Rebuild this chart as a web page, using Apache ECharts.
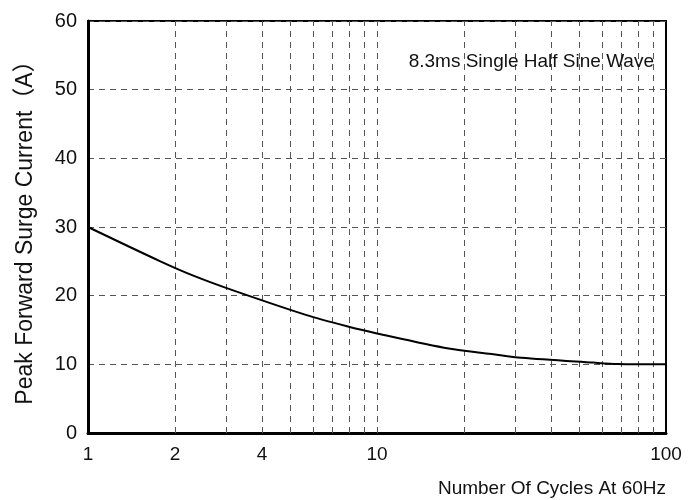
<!DOCTYPE html>
<html>
<head>
<meta charset="utf-8">
<script src="https://cdn.jsdelivr.net/npm/echarts@6/dist/echarts.min.js"></script>
<style>html,body{margin:0;padding:0;background:#fff}#c{width:698px;height:500px}</style>
</head>
<body>
<div id="c"></div>
<script>
// Data (x positions read against the 1 / 10 / 100 decades)
const cycles  = [1, 1.78, 2.35, 3.16, 5.67, 7.93, 10, 17.7, 24.9, 31.6, 56, 68, 100];
const current = [30, 25.0, 22.8, 20.8, 17.2, 15.5, 14.5, 12.3, 11.5, 10.95, 10.25, 10.05, 10];
const xTickLabels = [1, 2, 4, 10, 100];
const xGridValues = [2, 3, 4, 5, 6, 7, 8, 9, 10, 20, 30, 40, 50, 60, 70, 80, 90];
const yTicks = [0, 10, 20, 30, 40, 50, 60];

const FONT = "'Liberation Sans', Arial, 'Noto Sans CJK SC', sans-serif";
const chart = echarts.init(document.getElementById('c'));
chart.setOption({
  backgroundColor: '#fff',
  animation: false,
  textStyle: { fontFamily: FONT },
  title: {
    text: '8.3ms Single Half Sine Wave',
    right: 44, top: 52, padding: 0,
    textStyle: { fontSize: 19, fontWeight: 'normal', color: '#111', fontFamily: FONT }
  },
  grid: {
    left: 88, right: 32, top: 21, bottom: 67,
    show: true, borderColor: '#000', borderWidth: 2, backgroundColor: 'transparent'
  },
  xAxis: {
    type: 'log', logBase: 10, min: 1, max: 100,
    name: 'Number Of Cycles At 60Hz',
    nameLocation: 'end', nameGap: 0,
    nameTextStyle: { align: 'right', verticalAlign: 'top', padding: [46, 0, 0, 0], fontSize: 19, color: '#111', fontFamily: FONT },
    axisLine: { show: true, onZero: false, lineStyle: { color: '#000', width: 3 } },
    axisTick: { show: false, customValues: xTickLabels },
    axisLabel: { customValues: xTickLabels, fontSize: 19, color: '#111', margin: 12, fontFamily: FONT },
    splitLine: { show: false },
    minorTick: { show: false },
    minorSplitLine: { show: false }
  },
  yAxis: {
    type: 'value', min: yTicks[0], max: yTicks[yTicks.length - 1], interval: 10,
    name: 'Peak Forward Surge Current（A）',
    nameLocation: 'middle', nameGap: 51,
    nameTextStyle: { fontSize: 23, color: '#111', fontFamily: FONT },
    axisLine: { show: true, lineStyle: { color: '#000', width: 3 } },
    axisTick: { show: false },
    axisLabel: { fontSize: 20, color: '#111', margin: 11, fontFamily: FONT },
    splitLine: { show: true, lineStyle: { color: '#555', width: 1, type: [6, 5] } }
  },
  series: [{
    type: 'line',
    data: cycles.map((c, i) => [c, current[i]]),
    smooth: 0.3,
    symbol: 'none',
    lineStyle: { color: '#000', width: 2 },
    z: 5,
    markLine: {
      silent: true,
      symbol: 'none',
      label: { show: false },
      lineStyle: { color: '#555', width: 1, type: [6, 5] },
      data: xGridValues.map(v => ({ xAxis: v }))
    }
  }]
});
</script>
</body>
</html>
